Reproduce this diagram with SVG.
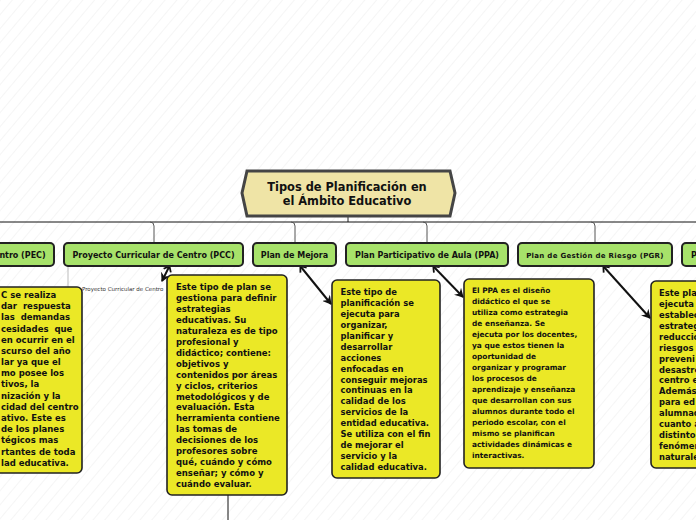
<svg xmlns="http://www.w3.org/2000/svg" width="696" height="520" viewBox="0 0 696 520">
<style>
.node rect{fill:#a7e26a;stroke:#222;stroke-width:2}
.node text{font-family:"DejaVu Sans",Verdana,sans-serif;font-weight:bold;font-size:8px;fill:#111;text-anchor:middle}
.box rect{fill:#ebe826;stroke:#222;stroke-width:1.6}
.box text{font-family:"DejaVu Sans",Verdana,sans-serif;font-weight:bold;fill:#111;white-space:pre}
.tree path{fill:none;stroke-width:1}
.drop{stroke:#555}
.arrow{fill:none;stroke:#111;stroke-width:2;marker-end:url(#ah);marker-start:url(#cap)}
</style>
<defs>
<pattern id="bg" width="9" height="9" patternUnits="userSpaceOnUse" patternTransform="rotate(40)">
<line x1="0" y1="0" x2="0" y2="9" stroke="#ececec" stroke-width="1"/>
</pattern>
<marker id="ah" markerWidth="10" markerHeight="10" refX="8" refY="5" orient="auto" markerUnits="userSpaceOnUse">
<path d="M0,0 L9,5 L0,10 L3,5 Z" fill="#111"/>
</marker>
<marker id="cap" markerWidth="10" markerHeight="10" refX="2" refY="5" orient="auto" markerUnits="userSpaceOnUse">
<path d="M6,1 L1,5 L6,9" fill="none" stroke="#111" stroke-width="1.8"/>
</marker>
</defs>
<rect width="696" height="520" fill="#fff"/>
<rect width="696" height="520" fill="url(#bg)"/>

<g id="connectors">
<g class="tree">
<path d="M348 216 V222" style="stroke:#222"/>
<path d="M0 222 H696" style="stroke:#111"/>
<path class="drop" d="M150 222 Q154 222 154 226 V243"/>
<path class="drop" d="M291 222 Q295 222 295 226 V243"/>
<path class="drop" d="M423 222 Q427 222 427 226 V243"/>
<path class="drop" d="M591 222 Q595 222 595 226 V243"/>
<path d="M68 266 V287" style="stroke:#bbb"/>
<path d="M228 495 V520" style="stroke:#111"/>
</g>
<path class="arrow" d="M169 267 L162 281"/>
<path class="arrow" d="M301 267 L331 304"/>
<path class="arrow" d="M434 267 L463 297"/>
<path class="arrow" d="M604 267 L650 318"/>
</g>

<g id="title">
<path d="M242 193 L247 171 L450 171 L455 193 L450 216 L247 216 Z" fill="#efe4a6" stroke="#454545" stroke-width="3"/>
<text x="347" y="191" font-family="DejaVu Sans,Verdana,sans-serif" font-weight="bold" font-size="11.4" fill="#111" text-anchor="middle">Tipos de Planificación en</text>
<text x="347" y="205" font-family="DejaVu Sans,Verdana,sans-serif" font-weight="bold" font-size="11.4" fill="#111" text-anchor="middle">el Ámbito Educativo</text>
</g>

<g id="node-pec" class="node">
<rect x="-10" y="243" width="64" height="23" rx="4"/>
<text x="22.5" y="257.5">ntro (PEC)</text>
</g>
<g id="node-pcc" class="node">
<rect x="64" y="243" width="179" height="23" rx="4"/>
<text x="153.5" y="257.5">Proyecto Curricular de Centro (PCC)</text>
</g>
<g id="node-mejora" class="node">
<rect x="253" y="243" width="83" height="23" rx="4"/>
<text x="294.5" y="257.5">Plan de Mejora</text>
</g>
<g id="node-ppa" class="node">
<rect x="346" y="243" width="162" height="23" rx="4"/>
<text x="427" y="257.5">Plan Participativo de Aula (PPA)</text>
</g>
<g id="node-pgr" class="node">
<rect x="518" y="243" width="154" height="23" rx="4"/>
<text x="595" y="257.5" style="font-size:7px;letter-spacing:0.3px">Plan de Gestión de Riesgo (PGR)</text>
</g>
<g id="node-p" class="node">
<rect x="682" y="243" width="40" height="23" rx="4"/>
<text x="691" y="257.5" style="text-anchor:start">P</text>
</g>

<g id="label-pcc">
<text x="82" y="291" font-family="DejaVu Sans,Verdana,sans-serif" font-size="5.5" fill="#333">Proyecto Curricular de Centro</text>
</g>

<g id="box-pec" class="box">
<rect x="-10" y="287" width="92" height="186" rx="5"/>
<text x="1" y="298" font-size="8.5">
<tspan x="1">C se realiza</tspan>
<tspan x="1" dy="11.18">dar  respuesta</tspan>
<tspan x="1" dy="11.18">las  demandas</tspan>
<tspan x="1" dy="11.18">cesidades  que</tspan>
<tspan x="1" dy="11.18">en ocurrir en el</tspan>
<tspan x="1" dy="11.18">scurso del año</tspan>
<tspan x="1" dy="11.18">lar ya que el</tspan>
<tspan x="1" dy="11.18">mo posee los</tspan>
<tspan x="1" dy="11.18">tivos, la</tspan>
<tspan x="1" dy="11.18">nización y la</tspan>
<tspan x="1" dy="11.18">cidad del centro</tspan>
<tspan x="1" dy="11.18">ativo. Este es</tspan>
<tspan x="1" dy="11.18">de los planes</tspan>
<tspan x="1" dy="11.18">tégicos mas</tspan>
<tspan x="1" dy="11.18">rtantes de toda</tspan>
<tspan x="1" dy="11.18">lad educativa.</tspan>
</text>
</g>

<g id="box-pcc" class="box">
<rect x="167" y="275" width="120" height="220" rx="5"/>
<text x="176" y="290" font-size="8.5">
<tspan x="176">Este tipo de plan se</tspan>
<tspan x="176" dy="10.95">gestiona para definir</tspan>
<tspan x="176" dy="10.95">estrategias</tspan>
<tspan x="176" dy="10.95">educativas. Su</tspan>
<tspan x="176" dy="10.95">naturaleza es de tipo</tspan>
<tspan x="176" dy="10.95">profesional y</tspan>
<tspan x="176" dy="10.95">didáctico; contiene:</tspan>
<tspan x="176" dy="10.95">objetivos y</tspan>
<tspan x="176" dy="10.95">contenidos por áreas</tspan>
<tspan x="176" dy="10.95">y ciclos, criterios</tspan>
<tspan x="176" dy="10.95">metodológicos y de</tspan>
<tspan x="176" dy="10.95">evaluación. Esta</tspan>
<tspan x="176" dy="10.95">herramienta contiene</tspan>
<tspan x="176" dy="10.95">las tomas de</tspan>
<tspan x="176" dy="10.95">decisiones de los</tspan>
<tspan x="176" dy="10.95">profesores sobre</tspan>
<tspan x="176" dy="10.95">qué, cuándo y cómo</tspan>
<tspan x="176" dy="10.95">enseñar; y cómo y</tspan>
<tspan x="176" dy="10.95">cuándo evaluar.</tspan>
</text>
</g>

<g id="box-mejora" class="box">
<rect x="332" y="280" width="108" height="198" rx="5"/>
<text x="340.5" y="295" font-size="8.4">
<tspan x="340.5">Este tipo de</tspan>
<tspan x="340.5" dy="10.94">planificación se</tspan>
<tspan x="340.5" dy="10.94">ejecuta para</tspan>
<tspan x="340.5" dy="10.94">organizar,</tspan>
<tspan x="340.5" dy="10.94">planificar y</tspan>
<tspan x="340.5" dy="10.94">desarrollar</tspan>
<tspan x="340.5" dy="10.94">acciones</tspan>
<tspan x="340.5" dy="10.94">enfocadas en</tspan>
<tspan x="340.5" dy="10.94">conseguir mejoras</tspan>
<tspan x="340.5" dy="10.94">continuas en la</tspan>
<tspan x="340.5" dy="10.94">calidad de los</tspan>
<tspan x="340.5" dy="10.94">servicios de la</tspan>
<tspan x="340.5" dy="10.94">entidad educativa.</tspan>
<tspan x="340.5" dy="10.94">Se utiliza con el fin</tspan>
<tspan x="340.5" dy="10.94">de mejorar el</tspan>
<tspan x="340.5" dy="10.94">servicio y la</tspan>
<tspan x="340.5" dy="10.94">calidad educativa.</tspan>
</text>
</g>

<g id="box-ppa" class="box">
<rect x="464" y="279" width="130" height="189" rx="5"/>
<text x="472" y="293" font-size="7.4">
<tspan x="472">El PPA es el diseño</tspan>
<tspan x="472" dy="11">didáctico el que se</tspan>
<tspan x="472" dy="11">utiliza como estrategia</tspan>
<tspan x="472" dy="11">de enseñanza. Se</tspan>
<tspan x="472" dy="11">ejecuta por los docentes,</tspan>
<tspan x="472" dy="11">ya que estos tienen la</tspan>
<tspan x="472" dy="11">oportunidad de</tspan>
<tspan x="472" dy="11">organizar y programar</tspan>
<tspan x="472" dy="11">los procesos de</tspan>
<tspan x="472" dy="11">aprendizaje y enseñanza</tspan>
<tspan x="472" dy="11">que desarrollan con sus</tspan>
<tspan x="472" dy="11">alumnos durante todo el</tspan>
<tspan x="472" dy="11">periodo escolar, con el</tspan>
<tspan x="472" dy="11">mismo se planifican</tspan>
<tspan x="472" dy="11">actividades dinámicas e</tspan>
<tspan x="472" dy="11">interactivas.</tspan>
</text>
</g>

<g id="box-pgr" class="box">
<rect x="651" y="281" width="60" height="187" rx="5"/>
<text x="659" y="296" font-size="8.4">
<tspan x="659">Este pla</tspan>
<tspan x="659" dy="10.93">ejecuta</tspan>
<tspan x="659" dy="10.93">establec</tspan>
<tspan x="659" dy="10.93">estrateg</tspan>
<tspan x="659" dy="10.93">reducció</tspan>
<tspan x="659" dy="10.93">riesgos</tspan>
<tspan x="659" dy="10.93">preveni</tspan>
<tspan x="659" dy="10.93">desastre</tspan>
<tspan x="659" dy="10.93">centro e</tspan>
<tspan x="659" dy="10.93">Además</tspan>
<tspan x="659" dy="10.93">para ed</tspan>
<tspan x="659" dy="10.93">alumnad</tspan>
<tspan x="659" dy="10.93">cuanto a</tspan>
<tspan x="659" dy="10.93">distinto</tspan>
<tspan x="659" dy="10.93">fenómen</tspan>
<tspan x="659" dy="10.93">naturale</tspan>
</text>
</g>
</svg>
